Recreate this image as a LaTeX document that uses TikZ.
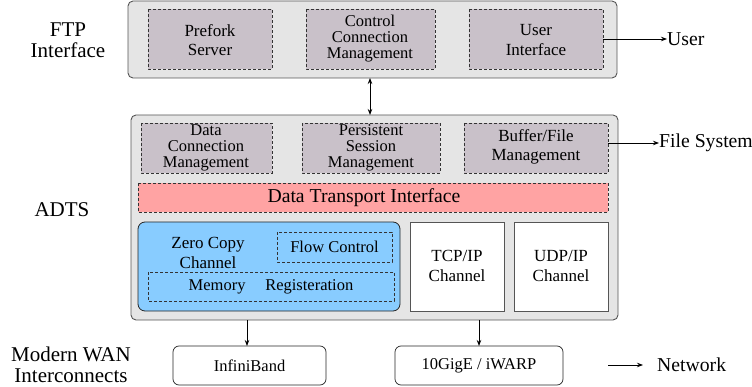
\documentclass[tikz,border=0pt]{standalone}
\usepackage{fontspec}
\setmainfont{Liberation Serif}
\usetikzlibrary{arrows.meta,positioning}
\definecolor{outerfill}{RGB}{229,229,229}
\definecolor{mauve}{RGB}{201,193,201}
\definecolor{pinkfill}{RGB}{255,163,163}
\definecolor{bluefill}{RGB}{136,204,255}
\definecolor{edgegray}{RGB}{85,85,85}
\tikzset{
  outerbox/.style={draw=edgegray, fill=outerfill, line width=0.9pt, rounded corners=5pt},
  dashbox/.style={draw=black!80, fill=mauve, dashed, dash pattern=on 3pt off 2pt, line width=0.6pt},
  innertxt/.style={font=\rmfamily\fontsize{16.5}{16}\selectfont, align=center, inner sep=0pt},
  twoline/.style={font=\rmfamily\fontsize{17}{19.5}\selectfont, align=center, inner sep=0pt},
  sidelabel/.style={font=\rmfamily\fontsize{21}{20.5}\selectfont, align=center, inner sep=0pt},
  rightlabel/.style={font=\rmfamily\fontsize{19.7}{20}\selectfont, inner sep=0pt, anchor=west},
  conn/.style={line width=0.9pt, -{Stealth[length=6pt,width=4.5pt]}},
  wanbox/.style={draw=black!85, fill=white, line width=0.7pt, rounded corners=6pt},
  chanbox/.style={draw=edgegray, fill=white, line width=0.9pt},
}
\begin{document}
\begin{tikzpicture}[x=1pt,y=-1pt]
\useasboundingbox (0,0) rectangle (752,387);
% outer boxes
\draw[outerbox] (128,1) rectangle (617,78);
\coordinate (ftpS) at (370,78);
\draw[outerbox] (131,115) rectangle (618,320);
\coordinate (adtsN) at (370,115);
\coordinate (adtsS1) at (247,320);
\coordinate (adtsS2) at (479,320);
% FTP inner
\draw[dashbox] (148,9) rectangle (272,69);
\node[twoline] (prefork) at (210,40) {Prefork\\Server};
\draw[dashbox] (306,9) rectangle (435,69);
\node[innertxt] (ctrl) at (370,39) {Control\\Connection\\Management};
\draw[dashbox] (469,9) rectangle (603,69);
\coordinate (uiE) at (603,39);
\node[twoline] (ui) at (536,40) {User\\Interface};
% ADTS inner
\draw[dashbox] (141,123) rectangle (272,173);
\node[innertxt] (dcm) at (206,148) {Data\\Connection\\Management};
\draw[dashbox] (302,123) rectangle (440,173);
\node[innertxt] (psm) at (371,148) {Persistent\\Session\\Management};
\draw[dashbox] (464,123) rectangle (608,173);
\coordinate (bfE) at (608,143);
\node[twoline] (bfm) at (536,147) {Buffer/File\\Management};
\draw[dashbox, fill=pinkfill] (138,183) rectangle (608,212);
\node[font=\rmfamily\fontsize{19.7}{20}\selectfont, inner sep=0pt] (dti) at (364,198) {Data Transport Interface};
% Zero copy channel
\draw[draw=black!85, fill=bluefill, line width=0.8pt, rounded corners=7pt] (138,222) rectangle (400,311);
\node[twoline] (zcc) at (208,253) {Zero Copy\\Channel};
\draw[dashbox, fill=bluefill] (277,232) rectangle (392,262);
\node[innertxt] (fc) at (334.5,247) {Flow Control};
\draw[dashbox, fill=bluefill] (148,272) rectangle (394,301);
\node[innertxt] (mr) at (271,286.5) {Memory\hspace{1.2em}Registeration};
% channels
\draw[chanbox] (410,222) rectangle (504,311);
\node[twoline, font=\rmfamily\fontsize{17}{20.5}\selectfont] (tcp) at (457,266) {TCP/IP\\Channel};
\draw[chanbox] (514,222) rectangle (608,311);
\node[twoline, font=\rmfamily\fontsize{17}{20.5}\selectfont] (udp) at (561,266) {UDP/IP\\Channel};
% WAN boxes
\draw[wanbox] (173,346) rectangle (326,385);
\node[innertxt] (ib) at (249.5,366) {InfiniBand};
\draw[wanbox] (395,346) rectangle (563,385);
\node[innertxt] (ten) at (479,366) {10GigE / iWARP};
\coordinate (ibN) at (247,346);
\coordinate (tenN) at (479,346);
% side labels
\node[sidelabel] (ftplab) at (68,40) {FTP\\Interface};
\node[sidelabel] (adtslab) at (62,210) {ADTS};
\node[sidelabel] (wanlab) at (71,365) {Modern WAN\\Interconnects};
% right labels
\node[rightlabel] (user) at (667,39) {User};
\node[rightlabel] (fs) at (659,143) {File System};
\coordinate (netA) at (608,365);
\coordinate (netB) at (643,365);
\node[rightlabel] (net) at (657,365) {Network};
% connectors
\draw[conn] (uiE) -- (user.west);
\draw[conn] (bfE) -- (fs.west);
\draw[line width=0.9pt, {Stealth[length=6pt,width=4.5pt]}-{Stealth[length=6pt,width=4.5pt]}] (ftpS) -- (adtsN);
\draw[conn] (adtsS1) -- (ibN);
\draw[conn] (adtsS2) -- (tenN);
\draw[conn] (netA) -- (netB);
\end{tikzpicture}
\end{document}
